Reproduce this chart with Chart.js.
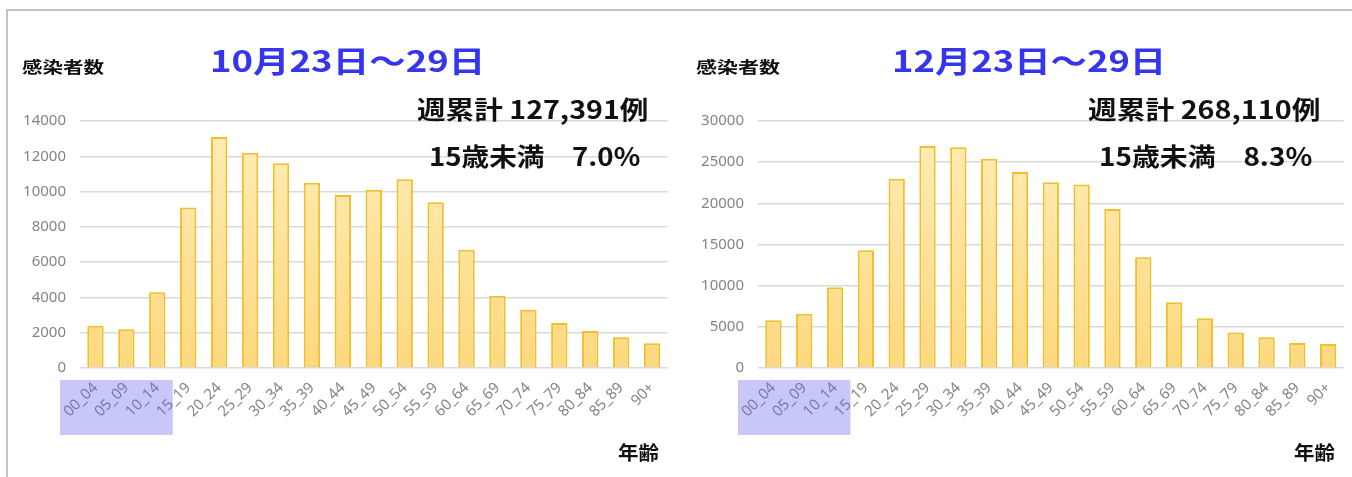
<!DOCTYPE html>
<html>
<head>
<meta charset="utf-8">
<script src="https://cdn.jsdelivr.net/npm/chart.js@4.4.0/dist/chart.umd.min.js"></script>
<style>
  html, body { margin: 0; padding: 0; background: #fff; }
  #page { position: relative; width: 1352px; height: 477px; overflow: hidden; }
  #frame {
    position: absolute; left: 6px; top: 9px; right: -10px; bottom: -10px;
    border-top: 2px solid #c2c2c2; border-left: 2px solid #c2c2c2;
  }
  .panel { position: absolute; top: 0; width: 676px; height: 477px; }
  .txt {
    position: absolute; white-space: nowrap; line-height: 1;
    font-family: "Noto Sans CJK JP", sans-serif; font-weight: bold; color: #111;
    transform-origin: 0 0;
  }
  .ttl { color: #3535ee; }
</style>
</head>
<body>
<div id="page">
  <div id="frame"></div>
  <div class="panel" style="left:0"><canvas id="octChart"></canvas></div>
  <div class="panel" style="left:676px"><canvas id="decChart"></canvas></div>

  <div class="txt" style="left:22px;top:58px;font-size:16px" data-w="82">感染者数</div>
  <div class="txt ttl" style="left:210px;top:44px;font-size:30px" data-w="275">10月23日～29日</div>
  <div class="txt" style="left:417px;top:96px;font-size:25px" data-w="231">週累計 127,391例</div>
  <div class="txt" style="left:429px;top:143px;font-size:25px" data-w="211">15歳未満　7.0%</div>
  <div class="txt" style="left:618px;top:442px;font-size:19px" data-w="41">年齢</div>

  <div class="txt" style="left:696px;top:58px;font-size:16px" data-w="84">感染者数</div>
  <div class="txt ttl" style="left:892px;top:44px;font-size:30px" data-w="274">12月23日～29日</div>
  <div class="txt" style="left:1088px;top:96px;font-size:25px" data-w="232">週累計 268,110例</div>
  <div class="txt" style="left:1099px;top:143px;font-size:25px" data-w="213">15歳未満　8.3%</div>
  <div class="txt" style="left:1294px;top:442px;font-size:19px" data-w="41">年齢</div>
</div>

<script>
// age groups on the x axis
const ageGroups = ['00_04', '05_09', '10_14', '15_19', '20_24', '25_29', '30_34', '35_39', '40_44',
  '45_49', '50_54', '55_59', '60_64', '65_69', '70_74', '75_79', '80_84', '85_89', '90+'];

// weekly cases, Oct 23-29
const octCases = [2400, 2200, 4300, 9100, 13100, 12200, 11600, 10500, 9800, 10100,
  10700, 9400, 6700, 4100, 3300, 2550, 2100, 1750, 1400];

// weekly cases, Dec 23-29
const decCases = [5800, 6600, 9800, 14300, 23000, 26950, 26800, 25400, 23800, 22550,
  22300, 19300, 13450, 8000, 6050, 4300, 3750, 3050, 2900];

// y axis ticks
const octMax = 14000, octStep = 2000;
const decMax = 30000, decStep = 5000;

// number of leading groups under 15
const childGroups = 3;

// translucent box over the under-15 labels
const childBox = {
  id: 'childBox',
  afterDraw(chart) {
    const { ctx, chartArea, scales } = chart;
    const x = scales.x;
    const half = (x.getPixelForValue(1) - x.getPixelForValue(0)) / 2;
    const left = chartArea.left - 20;
    const right = x.getPixelForValue(childGroups - 1) + half;
    ctx.save();
    ctx.fillStyle = 'rgba(100, 100, 240, 0.36)';
    ctx.fillRect(left, chartArea.bottom + 12, right - left, 55);
    ctx.restore();
  }
};

function barFill(context) {
  const chart = context.chart;
  const area = chart.chartArea;
  if (!area) return '#fde196';
  const g = chart.ctx.createLinearGradient(0, area.top, 0, area.bottom);
  g.addColorStop(0, '#ffedb8');
  g.addColorStop(1, '#fdd87e');
  return g;
}

function makeChart(canvasId, values, max, step, padLeft, padRight, axisWidth) {
  return new Chart(document.getElementById(canvasId), {
    type: 'bar',
    data: {
      labels: ageGroups,
      datasets: [{
        data: values,
        backgroundColor: barFill,
        borderColor: '#f0c02c',
        borderWidth: 2,
        borderSkipped: 'bottom',
        categoryPercentage: 1,
        barPercentage: 0.53
      }]
    },
    options: {
      responsive: true,
      maintainAspectRatio: false,
      animation: false,
      events: [],
      layout: { padding: { left: padLeft, right: padRight, top: 121, bottom: 29 } },
      plugins: { legend: { display: false }, tooltip: { enabled: false } },
      scales: {
        x: {
          grid: { display: false, drawTicks: false },
          border: { display: false },
          ticks: {
            color: '#858585',
            font: { family: "'Noto Sans', sans-serif", size: 15 },
            minRotation: 45,
            maxRotation: 45,
            autoSkip: false,
            padding: 11
          },
          afterFit(scale) { scale.height = 80; }
        },
        y: {
          min: 0,
          max: max,
          grid: { color: '#d9d9d9', lineWidth: 1.5, drawTicks: false },
          border: { display: false },
          ticks: {
            stepSize: step,
            color: '#858585',
            font: { family: "'Noto Sans', sans-serif", size: 15 },
            padding: 14,
            callback: value => String(value)
          },
          afterFit(scale) { scale.width = axisWidth; }
        }
      }
    },
    plugins: [childBox]
  });
}

makeChart('octChart', octCases, octMax, octStep, 10, 7, 70);
makeChart('decChart', decCases, decMax, decStep, 10, 3, 72);

// stretch the overlay texts to their widths
function fitTexts() {
  document.querySelectorAll('.txt').forEach(el => {
    el.style.transform = 'none';
    const w = el.offsetWidth;
    el.style.transform = `scaleX(${el.dataset.w / w})`;
  });
}
fitTexts();
document.fonts.ready.then(fitTexts);
</script>
</body>
</html>
